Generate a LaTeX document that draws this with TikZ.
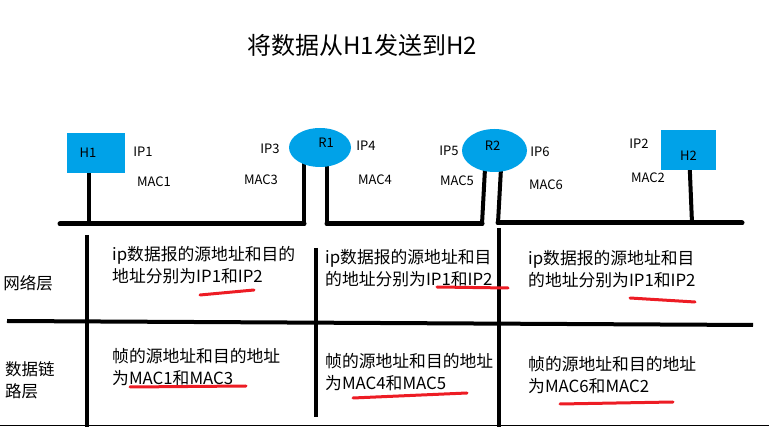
\documentclass[tikz,border=0pt]{standalone}
\usepackage{fontspec}
\setmainfont{Noto Sans CJK SC}
\usepackage{xcolor}
\usetikzlibrary{shapes.geometric,backgrounds}
\definecolor{hostblue}{HTML}{00A2E8}
\definecolor{markred}{HTML}{ED1C24}
\tikzset{
  every node/.style={inner sep=0pt,font=\fontsize{13}{16}\selectfont},
  host/.style={fill=hostblue,minimum width=58pt,minimum height=40pt},
  router/.style={ellipse,fill=hostblue,minimum width=62pt,minimum height=39pt},
  addr/.style={font=\fontsize{13}{16}\selectfont},
  cell/.style={anchor=north west,align=left,font=\fontsize{16.8}{22}\selectfont},
  layer/.style={align=left,font=\fontsize{16.5}{22}\selectfont},
  title/.style={font=\fontsize{24}{28}\selectfont},
  bus/.style={line width=5pt,line cap=round},
  stem/.style={line width=4pt},
  grid/.style={line width=4pt},
  redline/.style={draw=markred,line width=3pt,line cap=round}
}
\begin{document}
\begin{tikzpicture}[x=1pt,y=-1pt]
  \useasboundingbox (0,0) rectangle (769,427);
  \node[title] (head) at (362,45) {将数据从H1发送到H2};

  % hosts and routers
  \node[host,label={[xshift=-8pt]center:H1}] (H1) at (96,153) {};
  \node[host,minimum width=55pt,label={[yshift=-6pt]center:H2}] (H2) at (688.5,150) {};
  \node[router,label={[xshift=6pt,yshift=4.5pt]center:R1}] (R1) at (320,147.5) {};
  \node[router,minimum width=65pt,minimum height=43pt,label={[xshift=-2pt,yshift=4.5pt]center:R2}] (R2) at (494.5,150.5) {};

  \node[addr] (ip1) at (143,152) {IP1};
  \node[addr] (mac1) at (154,182) {MAC1};
  \node[addr] (ip3) at (270,149) {IP3};
  \node[addr] (mac3) at (261,180) {MAC3};
  \node[addr] (ip4) at (366,146) {IP4};
  \node[addr] (mac4) at (375,180) {MAC4};
  \node[addr] (ip5) at (449,151) {IP5};
  \node[addr] (mac5) at (457,181) {MAC5};
  \node[addr] (ip6) at (540,152) {IP6};
  \node[addr] (mac6) at (546,185) {MAC6};
  \node[addr] (ip2) at (639,144) {IP2};
  \node[addr] (mac2) at (648,178) {MAC2};

  % segments
  \coordinate (bus1w) at (60,224);
  \coordinate (bus1e) at (304,224);
  \coordinate (bus2w) at (327,224);
  \coordinate (bus2e) at (482,224);
  \coordinate (bus3w) at (498,223);
  \coordinate (bus3e) at (742,223);
  \coordinate (h1foot) at (89,224);
  \coordinate (h2foot) at (692,223);
  \coordinate (r2a) at (486,150);
  \coordinate (r2b) at (502,150);

  \begin{scope}[on background layer]
    \draw[stem] (h1foot |- H1.center) -- (h1foot);
    \draw[stem] (bus1e |- R1.center) -- (bus1e);
    \draw[stem] (bus2w |- R1.center) -- (bus2w);
    \draw[stem] (r2a) -- (bus2e);
    \draw[stem] (r2b) -- (bus3w);
    \draw[stem] (689,150) -- (h2foot);
  \end{scope}
  \draw[bus] (bus1w) -- (bus1e);
  \draw[bus] (bus2w) -- (bus2e);
  \draw[bus] (bus3w) -- (bus3e);

  % layer table
  \draw[grid] (7,321) -- (753,325);
  \draw[grid] (87,235) -- (87,427);
  \draw[grid] (316,248) -- (316,417);
  \draw[grid] (499,228) -- (499,427);
  \draw[line width=1pt] (0,426) -- (769,426);

  \node[layer] (netlayer) at (28,283) {网络层};
  \node[layer,anchor=north west] (linklayer) at (5,361) {数据链\\路层};

  \node[cell] (net1) at (112,246) {ip数据报的源地址和目的\\地址分别为IP1和IP2};
  \node[cell] (net2) at (325,249) {ip数据报的源地址和目\\的地址分别为IP1和IP2};
  \node[cell] (net3) at (528,250) {ip数据报的源地址和目\\的地址分别为IP1和IP2};
  \node[cell] (link1) at (112,348) {帧的源地址和目的地址\\为MAC1和MAC3};
  \node[cell] (link2) at (325,353) {帧的源地址和目的地址\\为MAC4和MAC5};
  \node[cell] (link3) at (528,356) {帧的源地址和目的地址\\为MAC6和MAC2};

  \draw[redline] (200,295) -- (254,290);
  \draw[redline] (437,287) -- (508,288);
  \draw[redline] (630,298) -- (695,302);
  \draw[redline] (130,387) -- (246,386);
  \draw[redline] (353,398) -- (467,393);
  \draw[redline] (560,404) -- (673,402);
\end{tikzpicture}
\end{document}
